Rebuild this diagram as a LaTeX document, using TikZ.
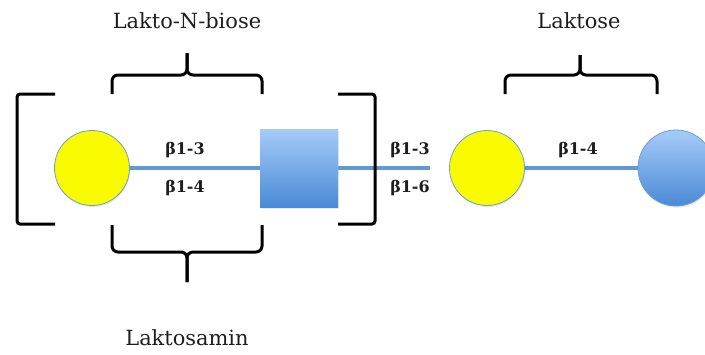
\documentclass[tikz,border=0pt]{standalone}
\usepackage{fontspec}
\setmainfont{DejaVu Serif}
\usetikzlibrary{backgrounds,shadows}
\definecolor{galyellow}{HTML}{FAFA00}
\definecolor{glyphedge}{HTML}{6A9FD3}
\definecolor{bluetop}{HTML}{A6CBF7}
\definecolor{bluebot}{HTML}{4A8AD6}
\definecolor{linkblue}{HTML}{5E9AD4}
\definecolor{inktext}{HTML}{1E1E1E}
\begin{document}
\begin{tikzpicture}[x=1bp,y=-1bp,
  sugar/.style={inner sep=0pt, line width=0.8bp,
    drop shadow={opacity=0.18, shadow xshift=0.8bp, shadow yshift=-1.6bp}},
  galc/.style={sugar, circle, draw=glyphedge, fill=galyellow, minimum size=75bp},
  glcc/.style={sugar, circle, draw=glyphedge, top color=bluetop, bottom color=bluebot, minimum size=76bp},
  glcnac/.style={sugar, rectangle, top color=bluetop, bottom color=bluebot, minimum size=78bp},
  link/.style={draw=linkblue, line width=3.2bp},
  brace/.style={draw=black, line width=3bp, rounded corners=6bp},
  bond/.style={font=\bfseries\fontsize{16}{18}\selectfont, text=inktext},
  title/.style={font=\fontsize{21}{24}\selectfont, text=inktext}
]
\useasboundingbox (0,0) rectangle (705,354);
\clip (0,0) rectangle (705,354);

% monosaccharide symbols
\node[galc]   (gal1) at (92,168)  {};
\node[glcnac] (nag)  at (299,168) {};
\node[galc]   (gal2) at (487,168) {};
\node[glcc]   (glc)  at (676,168) {};
\coordinate (free) at (430,168);

% glycosidic links, kept behind the symbols
\begin{scope}[on background layer]
  \path[link] (gal1) -- (nag);
  \path[link] (nag.center) -- (free);
  \path[link] (gal2) -- (glc);
\end{scope}

% repeat brackets
\draw[brace, rounded corners=3bp] (55,94) -- (17,94) -- (17,224) -- (55,224);
\draw[brace, rounded corners=3bp] (338,94) -- (375,94) -- (375,224) -- (338,224);

% grouping braces
\draw[brace] (112,94) -- (112,75) -- (187,75) -- (187,53);
\draw[brace] (262,94) -- (262,75) -- (187,75) -- (187,53);
\draw[brace] (112,225) -- (112,252) -- (187,252) -- (187,282);
\draw[brace] (262,225) -- (262,252) -- (187,252) -- (187,282);
\draw[brace] (505,94) -- (505,75) -- (580,75) -- (580,55);
\draw[brace] (657,94) -- (657,75) -- (580,75) -- (580,55);

% group names
\node[title] (tlnb) at (187,21)  {Lakto-N-biose};
\node[title] (tlac) at (579,21)  {Laktose};
\node[title] (tlam) at (187,338) {Laktosamin};

% linkage labels
\node[bond] (b13a) at (185,150) {β1-3};
\node[bond] (b14a) at (185,188) {β1-4};
\node[bond] (b13b) at (410,150) {β1-3};
\node[bond] (b16b) at (410,188) {β1-6};
\node[bond] (b14b) at (578,150) {β1-4};
\end{tikzpicture}
\end{document}
